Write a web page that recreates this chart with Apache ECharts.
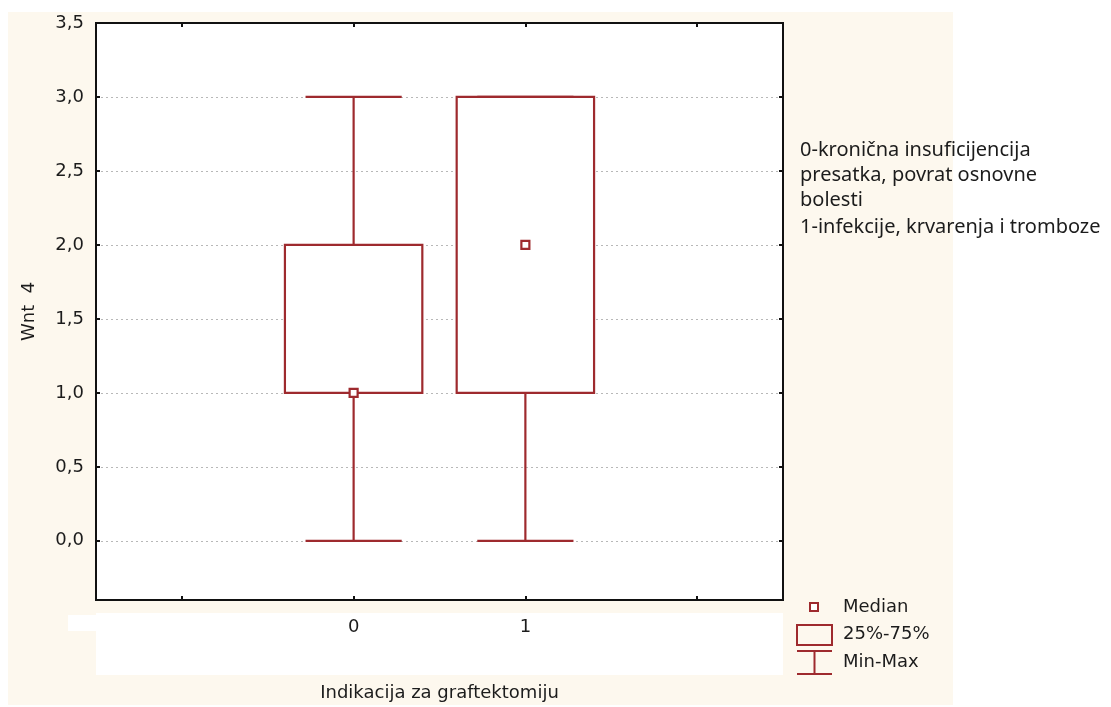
<!DOCTYPE html>
<html>
<head>
<meta charset="utf-8">
<script src="https://cdn.jsdelivr.net/npm/echarts@6/dist/echarts.min.js"></script>
<style>
html,body{margin:0;padding:0;background:#fff;}
#chart{width:1111px;height:707px;}
</style>
</head>
<body>
<div id="chart"></div>
<script>
// ---- data ----
const axisCategories = ['', '0', '1', ''];
const boxCategories = ['0', '1'];
const minVals = [0, 0];
const q1Vals = [1, 1];
const medianVals = [1, 2];
const q3Vals = [2, 3];
const maxVals = [3, 3];
const yTicks = [0, 0.5, 1, 1.5, 2, 2.5, 3, 3.5];
const yMin = -0.4;
const yMax = 3.5;
const noteLines = ['0-kronična insuficijencija', 'presatka, povrat osnovne', 'bolesti', '1-infekcije, krvarenja i tromboze'];
const legendLabels = ['Median', '25%-75%', 'Min-Max'];
const xTitle = 'Indikacija za graftektomiju';
const yTitle = 'Wnt  4';

const RED = '#9e2a2e';
const CREAM = '#fdf8ee';
const TXT = '#1c1c1c';
const AX_FONT = '"DejaVu Sans", Verdana, sans-serif';

const boxData = boxCategories.map((c, i) => [c, minVals[i], q1Vals[i], medianVals[i], q3Vals[i], maxVals[i]]);

function renderBox(params, api) {
  const xi = api.value(0);
  const band = api.size([1, 0])[0];
  const boxW = band * 0.80;
  const capW = band * 0.56;
  const pMin = api.coord([xi, api.value(1)]);
  const pQ1 = api.coord([xi, api.value(2)]);
  const pMed = api.coord([xi, api.value(3)]);
  const pQ3 = api.coord([xi, api.value(4)]);
  const pMax = api.coord([xi, api.value(5)]);
  const cx = pMin[0];
  const st = {stroke: RED, lineWidth: 2.2, fill: null};
  const children = [];
  children.push({type: 'line', shape: {x1: cx, y1: pMin[1], x2: cx, y2: pQ1[1]}, style: st});
  children.push({type: 'line', shape: {x1: cx, y1: pQ3[1], x2: cx, y2: pMax[1]}, style: st});
  children.push({type: 'line', shape: {x1: cx - capW / 2, y1: pMin[1], x2: cx + capW / 2, y2: pMin[1]}, style: st});
  children.push({type: 'line', shape: {x1: cx - capW / 2, y1: pMax[1], x2: cx + capW / 2, y2: pMax[1]}, style: st});
  children.push({type: 'rect', shape: {x: cx - boxW / 2, y: pQ3[1], width: boxW, height: pQ1[1] - pQ3[1]}, style: {stroke: RED, lineWidth: 2.2, fill: '#fff'}});
  children.push({type: 'rect', shape: {x: cx - 4, y: pMed[1] - 4, width: 8, height: 8}, style: {stroke: RED, lineWidth: 2.2, fill: '#fff'}});
  return {type: 'group', children: children};
}

const chart = echarts.init(document.getElementById('chart'), null, {renderer: 'canvas'});

const legendX = 797, legendTextX = 843;
const noteY = [150, 175, 200, 227];
const legendY = [607, 634, 662];
const option = {
  backgroundColor: '#fff',
  animation: false,
  grid: {left: 96, top: 23, width: 687, height: 578, show: true, backgroundColor: '#fff', borderColor: '#111', borderWidth: 2, containLabel: false},
  xAxis: [{
    type: 'category', data: axisCategories, position: 'bottom', boundaryGap: true,
    axisLine: {show: true, onZero: false, lineStyle: {color: '#111', width: 2}},
    axisTick: {show: true, inside: true, length: 4, alignWithLabel: true, lineStyle: {color: '#111', width: 2}},
    axisLabel: {show: true, margin: 18, color: TXT, fontFamily: AX_FONT, fontSize: 18},
    splitLine: {show: false},
    name: xTitle, nameLocation: 'middle', nameGap: 84,
    nameTextStyle: {color: TXT, fontFamily: AX_FONT, fontSize: 18}
  }, {
    type: 'category', data: axisCategories, position: 'top', boundaryGap: true,
    axisLine: {show: true, onZero: false, lineStyle: {color: '#111', width: 2}},
    axisTick: {show: true, inside: true, length: 4, alignWithLabel: true, lineStyle: {color: '#111', width: 2}},
    axisLabel: {show: false}, splitLine: {show: false}
  }],
  yAxis: [{
    type: 'value', min: yMin, max: yMax, position: 'left',
    axisLine: {show: true, onZero: false, lineStyle: {color: '#111', width: 2}},
    axisTick: {show: true, inside: true, length: 4, customValues: yTicks, lineStyle: {color: '#111', width: 2}},
    axisLabel: {show: true, customValues: yTicks, margin: 12, color: TXT, fontFamily: AX_FONT, fontSize: 18,
      formatter: v => Number(v).toFixed(1).replace('.', ',')},
    splitLine: {show: true, lineStyle: {color: '#b8b8b8', type: [2, 3], width: 1}},
    name: yTitle, nameLocation: 'middle', nameGap: 58, nameRotate: 90,
    nameTextStyle: {color: TXT, fontFamily: AX_FONT, fontSize: 18}
  }, {
    type: 'value', min: yMin, max: yMax, position: 'right',
    axisLine: {show: true, onZero: false, lineStyle: {color: '#111', width: 2}},
    axisTick: {show: true, inside: true, length: 4, customValues: yTicks, lineStyle: {color: '#111', width: 2}},
    axisLabel: {show: false}, splitLine: {show: false}
  }],
  graphic: [
    {type: 'rect', z: -10, silent: true, shape: {x: 8, y: 12, width: 945, height: 693}, style: {fill: CREAM}},
    {type: 'rect', z: -9, silent: true, shape: {x: 96, y: 613, width: 687, height: 62}, style: {fill: '#fff'}},
    {type: 'rect', z: -9, silent: true, shape: {x: 68, y: 615, width: 28, height: 16}, style: {fill: '#fff'}},
    ...noteLines.map((t, i) => ({type: 'text', x: 800, y: noteY[i], style: {text: t, fill: TXT, font: '20px "Noto Sans", "Open Sans", sans-serif', textVerticalAlign: 'middle'}})),
    {type: 'rect', shape: {x: 810, y: 603, width: 8, height: 8}, style: {stroke: RED, lineWidth: 2, fill: '#fff'}},
    {type: 'rect', shape: {x: legendX, y: 625, width: 35, height: 20}, style: {stroke: RED, lineWidth: 2, fill: 'none'}},
    {type: 'line', shape: {x1: legendX, y1: 651, x2: legendX + 35, y2: 651}, style: {stroke: RED, lineWidth: 2}},
    {type: 'line', shape: {x1: legendX + 17.5, y1: 651, x2: legendX + 17.5, y2: 674}, style: {stroke: RED, lineWidth: 2}},
    {type: 'line', shape: {x1: legendX, y1: 674, x2: legendX + 35, y2: 674}, style: {stroke: RED, lineWidth: 2}},
    ...legendLabels.map((t, i) => ({type: 'text', x: legendTextX, y: legendY[i], style: {text: t, fill: TXT, font: '18px ' + AX_FONT, textVerticalAlign: 'middle'}}))
  ],
  series: [{
    type: 'custom', xAxisIndex: 0, yAxisIndex: 0,
    renderItem: renderBox,
    encode: {x: 0, y: [1, 2, 3, 4, 5]},
    data: boxData, z: 5
  }]
};
chart.setOption(option);
</script>
</body>
</html>
